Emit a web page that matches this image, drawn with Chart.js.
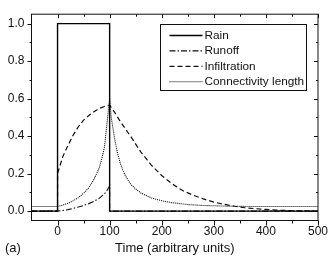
<!DOCTYPE html>
<html lang="en">
<head>
    <meta charset="UTF-8">
    <title>Rain, runoff, infiltration and connectivity length</title>
    <script src="https://cdn.jsdelivr.net/npm/chart.js"></script>
    <style>
        html, body { margin: 0; padding: 0; background: #fff; }
        #wrap { width: 332px; height: 259px; }
    </style>
</head>
<body>
    <div id="wrap"><canvas id="mainChart" width="332" height="259"></canvas></div>

    <script>
        // values
        const rainTime = [-50, 0, 0, 100, 100, 500];
        const rainValue = [0, 0, 1, 1, 0, 0];

        const runoffTime = [-50, 0, 10, 20, 30, 40, 50, 60, 70, 80, 90, 95, 100, 100, 500];
        const runoffValue = [0, 0, 0.003, 0.008, 0.015, 0.022, 0.03, 0.04, 0.052, 0.068, 0.092, 0.11, 0.135, 0, 0];

        const infilTime = [-50, 0, 0, 10, 20, 30, 40, 50, 60, 70, 80, 90, 100, 110, 120, 140, 160, 180, 200, 220, 240, 260, 280, 300, 320, 340, 360, 380, 400, 430, 460, 500];
        const infilValue = [0, 0, 0.2, 0.29, 0.35, 0.405, 0.45, 0.485, 0.51, 0.53, 0.547, 0.558, 0.565, 0.525, 0.48, 0.4, 0.315, 0.245, 0.19, 0.145, 0.11, 0.085, 0.065, 0.048, 0.036, 0.026, 0.018, 0.013, 0.009, 0.004, 0.002, 0];

        const connTime = [-50, 0, 10, 20, 30, 40, 50, 60, 70, 80, 85, 90, 95, 100, 103, 106, 110, 115, 120, 125, 130, 140, 150, 160, 180, 200, 220, 250, 280, 320, 360, 500];
        const connValue = [0.025, 0.025, 0.032, 0.042, 0.055, 0.072, 0.095, 0.125, 0.17, 0.23, 0.28, 0.34, 0.47, 0.6, 0.5, 0.45, 0.38, 0.31, 0.26, 0.22, 0.19, 0.145, 0.118, 0.097, 0.07, 0.055, 0.045, 0.035, 0.03, 0.027, 0.025, 0.025];

        const xTicks = [0, 100, 200, 300, 400, 500];
        const xMinorTicks = [0, 50, 100, 150, 200, 250, 300, 350, 400, 450, 500];
        const yTicks = [0, 0.2, 0.4, 0.6, 0.8, 1.0];
        const yMinorTicks = [0, 0.1, 0.2, 0.3, 0.4, 0.5, 0.6, 0.7, 0.8, 0.9, 1.0];

        const fontFamily = '"Liberation Sans", Arial, Helvetica, sans-serif';

        function toPoints(times, values) {
            return times.map((t, i) => ({ x: t, y: values[i] }));
        }

        // frame, minor ticks, legend box and panel label
        const framePlugin = {
            id: 'frame',
            afterDraw(chart) {
                const ctx = chart.ctx;
                const area = chart.chartArea;
                const xs = chart.scales.x;
                const ys = chart.scales.y;
                ctx.save();
                ctx.strokeStyle = '#111';
                ctx.lineWidth = 1;
                ctx.setLineDash([]);
                ctx.strokeRect(area.left, area.top, area.right - area.left, area.bottom - area.top);

                ctx.beginPath();
                xMinorTicks.forEach(v => {
                    const px = Math.round(xs.getPixelForValue(v)) + 0.5;
                    const major = xTicks.includes(v);
                    // bottom: outward
                    ctx.moveTo(px, area.bottom);
                    ctx.lineTo(px, area.bottom + (major ? 5 : 3));
                    // top: inward
                    ctx.moveTo(px, area.top);
                    ctx.lineTo(px, area.top + (major ? 4 : 2.5));
                });
                yMinorTicks.forEach(v => {
                    const py = Math.round(ys.getPixelForValue(v)) + 0.5;
                    const major = yTicks.some(t => Math.abs(t - v) < 1e-9);
                    // left: outward
                    ctx.moveTo(area.left, py);
                    ctx.lineTo(area.left - (major ? 4 : 2), py);
                    // right: inward
                    ctx.moveTo(area.right, py);
                    ctx.lineTo(area.right - (major ? 4 : 2), py);
                });
                ctx.stroke();

                // legend
                const boxW = 146, boxH = 66;
                const bx = Math.round(area.right - 12 - boxW) + 0.5;
                const by = Math.round(ys.getPixelForValue(1.0)) + 0.5;
                ctx.fillStyle = '#fff';
                ctx.fillRect(bx, by, boxW, boxH);
                ctx.strokeRect(bx, by, boxW, boxH);
                ctx.font = '11.8px ' + fontFamily;
                ctx.textBaseline = 'middle';
                ctx.textAlign = 'left';
                chart.data.datasets.forEach((ds, i) => {
                    const ry = by + 11 + i * 15.4;
                    ctx.beginPath();
                    ctx.strokeStyle = ds.borderColor;
                    ctx.lineWidth = ds.borderWidth;
                    ctx.setLineDash(ds.borderDash || []);
                    ctx.moveTo(bx + 9, ry);
                    ctx.lineTo(bx + 42, ry);
                    ctx.stroke();
                    ctx.fillStyle = '#111';
                    ctx.fillText(ds.label, bx + 44, ry);
                });

                ctx.setLineDash([]);
                ctx.font = '13px ' + fontFamily;
                ctx.fillStyle = '#111';
                ctx.textAlign = 'left';
                ctx.fillText('(a)', 5, 248);
                ctx.restore();
            }
        };

        const ctx = document.getElementById('mainChart').getContext('2d');
        const chart = new Chart(ctx, {
            type: 'line',
            data: {
                datasets: [
                    {
                        label: 'Rain',
                        data: toPoints(rainTime, rainValue),
                        borderColor: '#000',
                        borderWidth: 1.4,
                        borderDash: [],
                        pointRadius: 0,
                        tension: 0,
                        fill: false
                    },
                    {
                        label: 'Runoff',
                        data: toPoints(runoffTime, runoffValue),
                        borderColor: '#111',
                        borderWidth: 1.1,
                        borderDash: [6, 2, 1.5, 2],
                        pointRadius: 0,
                        tension: 0,
                        fill: false
                    },
                    {
                        label: 'Infiltration',
                        data: toPoints(infilTime, infilValue),
                        borderColor: '#111',
                        borderWidth: 1.2,
                        borderDash: [5, 3],
                        pointRadius: 0,
                        tension: 0,
                        fill: false
                    },
                    {
                        label: 'Connectivity length',
                        data: toPoints(connTime, connValue),
                        borderColor: '#000',
                        borderWidth: 1.1,
                        borderDash: [1, 1],
                        pointRadius: 0,
                        tension: 0,
                        fill: false
                    }
                ]
            },
            options: {
                responsive: false,
                animation: false,
                events: [],
                layout: { padding: { top: 4.5, right: 11.5, left: 0, bottom: 0 } },
                plugins: {
                    legend: { display: false },
                    tooltip: { enabled: false }
                },
                scales: {
                    x: {
                        type: 'linear',
                        min: -50,
                        max: 500,
                        afterBuildTicks: s => { s.ticks = xTicks.map(v => ({ value: v })); },
                        afterFit: s => { s.height = 38.5; },
                        grid: { display: false, drawTicks: false },
                        border: { display: false },
                        ticks: {
                            padding: 4,
                            maxRotation: 0,
                            color: '#111',
                            font: { family: fontFamily, size: 12 }
                        },
                        title: {
                            display: true,
                            text: 'Time (arbitrary units)',
                            color: '#111',
                            padding: { top: 0, bottom: 3.2 },
                            font: { family: fontFamily, size: 13 }
                        }
                    },
                    y: {
                        type: 'linear',
                        min: -0.05,
                        max: 1.05,
                        afterBuildTicks: s => { s.ticks = yTicks.map(v => ({ value: v })); },
                        afterFit: s => { s.width = 31.5; },
                        grid: { display: false, drawTicks: false },
                        border: { display: false },
                        ticks: {
                            padding: 7,
                            color: '#111',
                            font: { family: fontFamily, size: 12 },
                            callback: v => v.toFixed(1)
                        }
                    }
                }
            },
            plugins: [framePlugin]
        });
    </script>
</body>
</html>
